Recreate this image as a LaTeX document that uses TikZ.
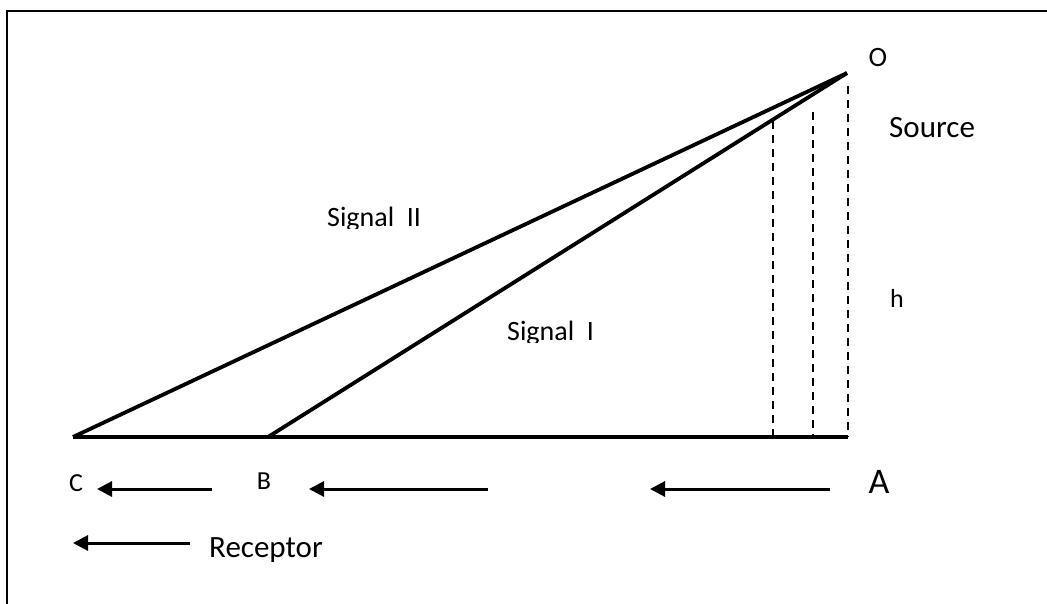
\documentclass[tikz,border=0pt]{standalone}
\usepackage{fontspec}
\setmainfont{Carlito}
\usetikzlibrary{arrows.meta}
\begin{document}
\begin{tikzpicture}[x=1pt,y=-1pt,
  solidline/.style={line width=3.8pt},
  dashline/.style={line width=1.8pt, dash pattern=on 8pt off 6pt},
  arrowline/.style={line width=3pt,-{Triangle[length=15pt,width=15pt]}},
  lbl/.style={inner sep=0pt, anchor=base},
  lblw/.style={inner sep=0pt, anchor=base west},
]
\useasboundingbox (0,0) rectangle (1047,603);
% frame (top and left edges only)
\draw[line width=2pt] (7,610) -- (7,11) -- (1055,11);
% main points
\coordinate (O) at (847,73);
\coordinate (A) at (848,437);
\coordinate (B) at (268,437);
\coordinate (C) at (73,437);
\draw[solidline] (C) -- (A);
\draw[solidline] (C) -- (O);
\draw[solidline] (B) -- (O);
% dashed verticals
\coordinate (d1t) at (773,121);
\coordinate (d1b) at (773,437);
\coordinate (d2t) at (813,112);
\coordinate (d2b) at (813,437);
\coordinate (d3t) at (848,86);
\draw[dashline] (d1t) -- (d1b);
\draw[dashline] (d2t) -- (d2b);
\draw[dashline] (d3t) -- (A);
% labels
\node[lbl, font=\fontsize{28}{34}\selectfont] (lO) at (878,66.5) {O};
\node[lblw, font=\fontsize{31}{37}\selectfont] (lSource) at (889,137) {Source};
\node[lblw, font=\fontsize{26}{31}\selectfont] (lh) at (890,307) {h};
\begin{scope}
  \clip (300,150) rectangle (470,228);
  \node[lblw, font=\fontsize{28}{34}\selectfont] (lS2) at (327,226) {Signal\ \ II};
\end{scope}
\begin{scope}
  \clip (480,280) rectangle (640,342);
  \node[lblw, font=\fontsize{28}{34}\selectfont] (lS1) at (507,340) {Signal\ \ I};
\end{scope}
\node[lbl, font=\fontsize{26}{31}\selectfont] (lC) at (76,491) {C};
\node[lbl, font=\fontsize{26}{31}\selectfont] (lB) at (264,489) {B};
\node[lbl, font=\fontsize{36}{43}\selectfont] (lA) at (879,493) {A};
\node[lblw, font=\fontsize{31}{37}\selectfont] (lR) at (209,557) {Receptor};
% arrows
\coordinate (a1s) at (212,489);
\coordinate (a1e) at (97,489);
\coordinate (a2s) at (488,489);
\coordinate (a2e) at (309,489);
\coordinate (a3s) at (830,489);
\coordinate (a3e) at (650,489);
\coordinate (a4s) at (190,543);
\coordinate (a4e) at (73,543);
\draw[arrowline] (a1s) -- (a1e);
\draw[arrowline] (a2s) -- (a2e);
\draw[arrowline] (a3s) -- (a3e);
\draw[arrowline] (a4s) -- (a4e);
\end{tikzpicture}
\end{document}
